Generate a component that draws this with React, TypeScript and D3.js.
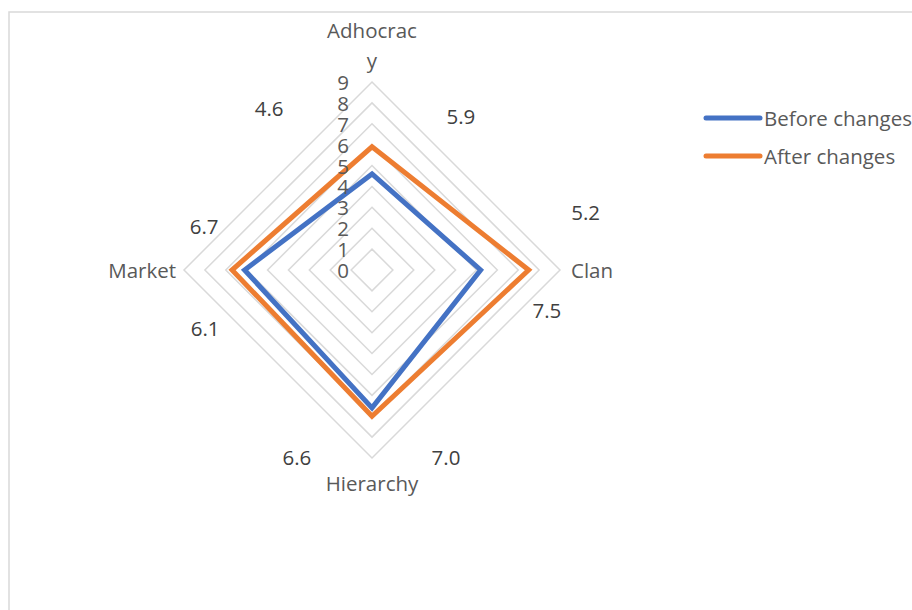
import React from "react";
import * as d3 from "d3";

const categories = ["Adhocracy", "Clan", "Hierarchy", "Market"];
const before = [4.6, 5.2, 6.6, 6.1];
const after = [5.9, 7.5, 7.0, 6.7];
const seriesNames = ["Before changes", "After changes"];
const ticks = [0, 1, 2, 3, 4, 5, 6, 7, 8, 9];

// where the data labels sit: [angle in degrees clockwise from top, distance in axis units]
const beforeLabelSpots = [[-32.4, 9.19], [74.8, 10.6], [201.9, 9.64], [250.8, 8.46]];
const afterLabelSpots = [[30.0, 8.51], [102.9, 8.59], [158.4, 9.62], [284.7, 8.31]];

const width = 912;
const height = 610;
const cx = 372;
const cy = 270;
const colors = ["#4472C4", "#ED7D31"];
const font = "'Open Sans', Lato, sans-serif";
const fs = 20.5;

const r = d3.scaleLinear().domain([0, 9]).range([0, 188]);
const angleOf = (i: number) => (i / categories.length) * 2 * Math.PI;

const radial = d3
  .lineRadial<number>()
  .angle((_, i) => angleOf(i))
  .radius((d) => r(d))
  .curve(d3.curveLinearClosed);

const polar = (deg: number, v: number) => {
  const a = (deg * Math.PI) / 180;
  return [cx + Math.sin(a) * r(v), cy - Math.cos(a) * r(v)];
};

export default function App() {
  const series = [before, after];
  const spots = [beforeLabelSpots, afterLabelSpots];
  return (
    <svg
      width={width}
      height={height}
      style={{ position: "absolute", left: 0, top: 0, background: "#fff" }}
    >
      <rect x={9} y={12} width={width + 10} height={height + 10} fill="#fff" stroke="#d9d9d9" strokeWidth={1.5} />
      <g transform={`translate(${cx},${cy})`}>
        {ticks.slice(1).map((t) => (
          <path
            key={t}
            d={radial(categories.map(() => t)) || ""}
            fill="none"
            stroke="#d9d9d9"
            strokeWidth={1.5}
          />
        ))}
        {series.map((s, k) => (
          <path
            key={k}
            d={radial(s) || ""}
            fill="none"
            stroke={colors[k]}
            strokeWidth={5}
            strokeLinejoin="miter"
          />
        ))}
        {ticks.map((t) => (
          <text
            key={t}
            x={-23}
            y={-r(t)}
            textAnchor="end"
            dominantBaseline="central"
            fontFamily={font}
            fontSize={fs}
            fill="#595959"
          >
            {t}
          </text>
        ))}
      </g>
      {/* category labels */}
      <text x={cx} y={cy - 240} textAnchor="middle" dominantBaseline="central" fontFamily={font} fontSize={fs} fill="#595959">
        {categories[0].slice(0, 8)}
      </text>
      <text x={cx} y={cy - 210} textAnchor="middle" dominantBaseline="central" fontFamily={font} fontSize={fs} fill="#595959">
        {categories[0].slice(8)}
      </text>
      <text x={cx + r(9) + 11} y={cy} textAnchor="start" dominantBaseline="central" fontFamily={font} fontSize={fs} fill="#595959">
        {categories[1]}
      </text>
      <text x={cx} y={cy + r(9) + 25} textAnchor="middle" dominantBaseline="central" fontFamily={font} fontSize={fs} fill="#595959">
        {categories[2]}
      </text>
      <text x={cx - r(9) - 8} y={cy} textAnchor="end" dominantBaseline="central" fontFamily={font} fontSize={fs} fill="#595959">
        {categories[3]}
      </text>
      {/* data labels */}
      {series.map((s, k) =>
        s.map((v, i) => {
          const [x, y] = polar(spots[k][i][0], spots[k][i][1]);
          return (
            <text
              key={`${k}-${i}`}
              x={x}
              y={y}
              textAnchor="middle"
              dominantBaseline="central"
              fontFamily={font}
              fontSize={fs}
              fill="#404040"
            >
              {v.toFixed(1)}
            </text>
          );
        })
      )}
      {/* legend */}
      {seriesNames.map((name, k) => (
        <g key={name} transform={`translate(706,${118 + k * 38})`}>
          <line x1={0} x2={54} y1={0} y2={0} stroke={colors[k]} strokeWidth={5} strokeLinecap="round" />
          <text x={58} y={0} dominantBaseline="central" fontFamily={font} fontSize={fs} fill="#595959">
            {name}
          </text>
        </g>
      ))}
    </svg>
  );
}
